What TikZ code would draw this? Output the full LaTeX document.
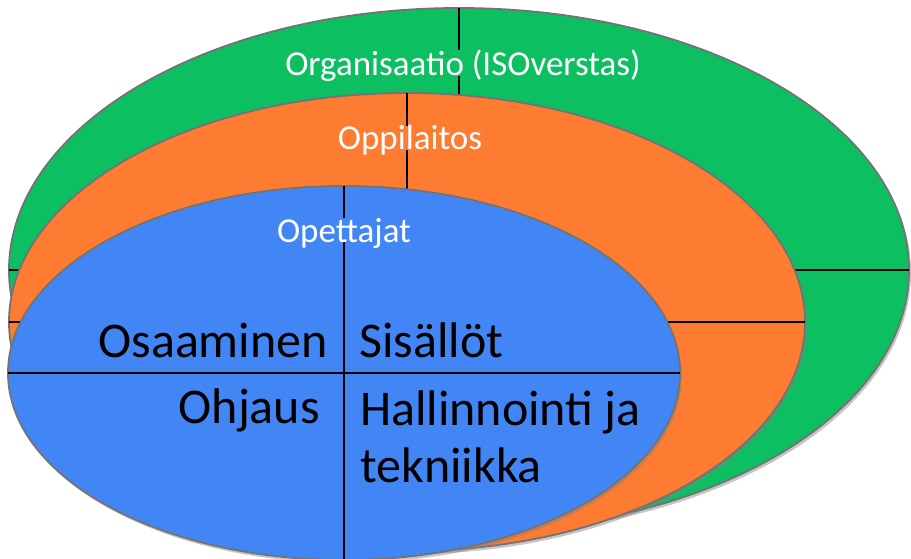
\documentclass[tikz,border=0pt]{standalone}
\usepackage{fontspec}
\setmainfont{Carlito}
\usetikzlibrary{shapes.geometric,shadows}
\definecolor{orggreen}{RGB}{12,192,98}
\definecolor{schorange}{RGB}{253,124,50}
\definecolor{teachblue}{RGB}{66,134,246}
\tikzset{
  ring/.style={ellipse, draw=black!55, line width=1.8pt, inner sep=0pt, outer sep=0pt,
    drop shadow={opacity=0.45, shadow xshift=2pt, shadow yshift=-3pt}},
  quad/.style={line width=1.6pt},
  title/.style={text=white, font=\fontsize{35}{40}\selectfont, inner sep=0pt, text depth=0pt},
  area/.style={font=\fontsize{50}{57}\selectfont, inner sep=0pt}
}
\begin{document}
\begin{tikzpicture}[x=1pt,y=-1pt]
\useasboundingbox (0,0) rectangle (911,559);
% organisaatio
\node[ring, fill=orggreen, minimum width=900pt, minimum height=524pt] (org) at (459,270) {};
\draw[quad] (org.north) -- (org.south);
\draw[quad] (org.west) -- (org.east);
\node[title, fill=orggreen, anchor=base] (orgtxt) at (463,76) {Organisaatio (ISOverstas)};
% oppilaitos
\node[ring, fill=schorange, minimum width=796pt, minimum height=458pt] (school) at (407,322) {};
\draw[quad] (school.north) -- (school.south);
\draw[quad] (school.west) -- (school.east);
\node[title, fill=schorange, anchor=base] (schooltxt) at (410,150) {Oppilaitos};
% opettajat
\node[ring, fill=teachblue, minimum width=672pt, minimum height=374pt] (teach) at (344,373) {};
\draw[quad] (teach.north) -- (teach.south);
\draw[quad] (teach.west) -- (teach.east);
\node[title, fill=teachblue, anchor=base] (teachtxt) at (344,242) {Opettajat};
%\node at (344,373) {center};
\node[area, anchor=base east] (osaa) at (328,357) {Osaaminen};
\node[area, anchor=base west] (sisal) at (359,357) {Sisällöt};
\node[area, anchor=base east] (ohja) at (320,423) {Ohjaus};
\node[area, anchor=base west] (halli) at (360,425) {Hallinnointi ja};
\node[area, anchor=base west] (tekn) at (360,482) {tekniikka};
\end{tikzpicture}
\end{document}
